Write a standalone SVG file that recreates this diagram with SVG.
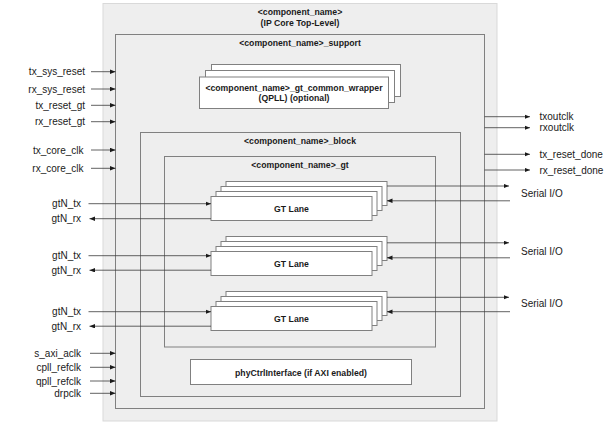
<svg xmlns="http://www.w3.org/2000/svg" width="614" height="425" viewBox="0 0 614 425">
<style>
.box{fill:none;stroke:#808080;stroke-width:1}
.card{fill:#ffffff;stroke:#808080;stroke-width:1}
.lbl{font-family:"Liberation Sans",Arial,sans-serif;font-size:10px;fill:#1a1a1a}
.ttl{font-family:"Liberation Sans",Arial,sans-serif;font-size:8.7px;font-weight:bold;fill:#1a1a1a;text-anchor:middle}
.con{stroke:#3a3a3a;stroke-width:0.8;fill:none;marker-end:url(#ah)}
</style>
<defs>
<marker id="ah" markerUnits="userSpaceOnUse" markerWidth="6" markerHeight="5" refX="5.5" refY="2.25" orient="auto">
<path d="M0,0 L5.5,2.25 L0,4.5 z" fill="#1a1a1a"/>
</marker>
<g id="lane">
<rect class="card" x="15" y="-15" width="161" height="24"/>
<rect class="card" x="10" y="-10" width="161" height="24"/>
<rect class="card" x="5" y="-5" width="161" height="24"/>
<rect class="card" x="0" y="0" width="161" height="24"/>
<text class="ttl" x="80.5" y="15">GT Lane</text>
</g>
</defs>
<rect width="614" height="425" fill="#ffffff"/>
<g id="top">
<rect x="103" y="3.5" width="394" height="417.5" fill="#eeeeee" stroke="#d9d9d9" stroke-width="1"/>
<text class="ttl" x="300" y="15">&lt;component_name&gt;</text>
<text class="ttl" x="300" y="26">(IP Core Top-Level)</text>
</g>
<g id="support">
<rect class="box" x="115.5" y="34.5" width="369" height="374"/>
<text class="ttl" x="300" y="46">&lt;component_name&gt;_support</text>
</g>
<g id="common_wrapper">
<rect class="card" x="211.5" y="64.5" width="189" height="32"/>
<rect class="card" x="205.5" y="70.5" width="189" height="32"/>
<rect class="card" x="199.5" y="77" width="189" height="31.5"/>
<text class="ttl" x="294" y="90.5">&lt;component_name&gt;_gt_common_wrapper</text>
<text class="ttl" x="294" y="101">(QPLL) (optional)</text>
</g>
<g id="block">
<rect class="box" x="140.5" y="132.5" width="320" height="264"/>
<text class="ttl" x="300" y="143.5">&lt;component_name&gt;_block</text>
</g>
<g id="gt">
<rect class="box" x="164.5" y="156.5" width="271" height="190.5"/>
<text class="ttl" x="300" y="168">&lt;component_name&gt;_gt</text>
</g>
<g id="lane1"><use href="#lane" x="211" y="196.5"/></g>
<g id="lane2"><use href="#lane" x="211" y="251.5"/></g>
<g id="lane3"><use href="#lane" x="211" y="306.5"/></g>
<g id="phy">
<rect class="card" x="190.5" y="359.5" width="221" height="25"/>
<text class="ttl" x="301" y="375.5">phyCtrlInterface (if AXI enabled)</text>
</g>
<g id="connectors">
<line class="con" x1="91" y1="71.7" x2="115.5" y2="71.7"/>
<line class="con" x1="91" y1="89" x2="115.5" y2="89"/>
<line class="con" x1="91" y1="105.3" x2="115.5" y2="105.3"/>
<line class="con" x1="91" y1="121.7" x2="115.5" y2="121.7"/>
<line class="con" x1="91" y1="150" x2="115.5" y2="150"/>
<line class="con" x1="91" y1="168.3" x2="115.5" y2="168.3"/>
<line class="con" x1="90" y1="353.3" x2="115.5" y2="353.3"/>
<line class="con" x1="90" y1="367.3" x2="115.5" y2="367.3"/>
<line class="con" x1="90" y1="381" x2="115.5" y2="381"/>
<line class="con" x1="90" y1="393.3" x2="115.5" y2="393.3"/>
<line class="con" x1="484.5" y1="116.7" x2="530" y2="116.7"/>
<line class="con" x1="484.5" y1="127.7" x2="530" y2="127.7"/>
<line class="con" x1="484.5" y1="154.3" x2="530" y2="154.3"/>
<line class="con" x1="484.5" y1="170" x2="530" y2="170"/>
<line class="con" x1="88.5" y1="203.7" x2="211" y2="203.7"/>
<line class="con" x1="211" y1="218.7" x2="89.5" y2="218.7"/>
<line class="con" x1="88.5" y1="255.7" x2="211" y2="255.7"/>
<line class="con" x1="211" y1="270.2" x2="89.5" y2="270.2"/>
<line class="con" x1="88.5" y1="311.7" x2="211" y2="311.7"/>
<line class="con" x1="211" y1="326.2" x2="89.5" y2="326.2"/>
<line class="con" x1="387" y1="186" x2="509" y2="186"/>
<line class="con" x1="510" y1="200.8" x2="387" y2="200.8"/>
<line class="con" x1="387" y1="242.8" x2="509" y2="242.8"/>
<line class="con" x1="510" y1="257.8" x2="387" y2="257.8"/>
<line class="con" x1="387" y1="297.3" x2="509" y2="297.3"/>
<line class="con" x1="510" y1="311.7" x2="387" y2="311.7"/>
</g>
<g id="labels">
<g class="lbl" text-anchor="end">
<text x="85" y="75.2">tx_sys_reset</text>
<text x="85" y="92.5">rx_sys_reset</text>
<text x="85" y="108.8">tx_reset_gt</text>
<text x="85" y="125.2">rx_reset_gt</text>
<text x="83.5" y="153.5">tx_core_clk</text>
<text x="83.5" y="171.8">rx_core_clk</text>
<text x="81" y="207.2">gtN_tx</text>
<text x="81" y="222.2">gtN_rx</text>
<text x="81" y="259.2">gtN_tx</text>
<text x="81" y="273.7">gtN_rx</text>
<text x="81" y="315.2">gtN_tx</text>
<text x="81" y="329.7">gtN_rx</text>
<text x="81" y="356.8">s_axi_aclk</text>
<text x="81" y="370.8">cpll_refclk</text>
<text x="81" y="384.5">qpll_refclk</text>
<text x="81" y="396.8">drpclk</text>
</g>
<g class="lbl">
<text x="539.5" y="120.2">txoutclk</text>
<text x="539.5" y="131.2">rxoutclk</text>
<text x="539.5" y="157.8">tx_reset_done</text>
<text x="539.5" y="173.5">rx_reset_done</text>
<text x="521" y="196.8">Serial I/O</text>
<text x="521" y="254.5">Serial I/O</text>
<text x="521" y="307.2">Serial I/O</text>
</g>
</g>
</svg>
